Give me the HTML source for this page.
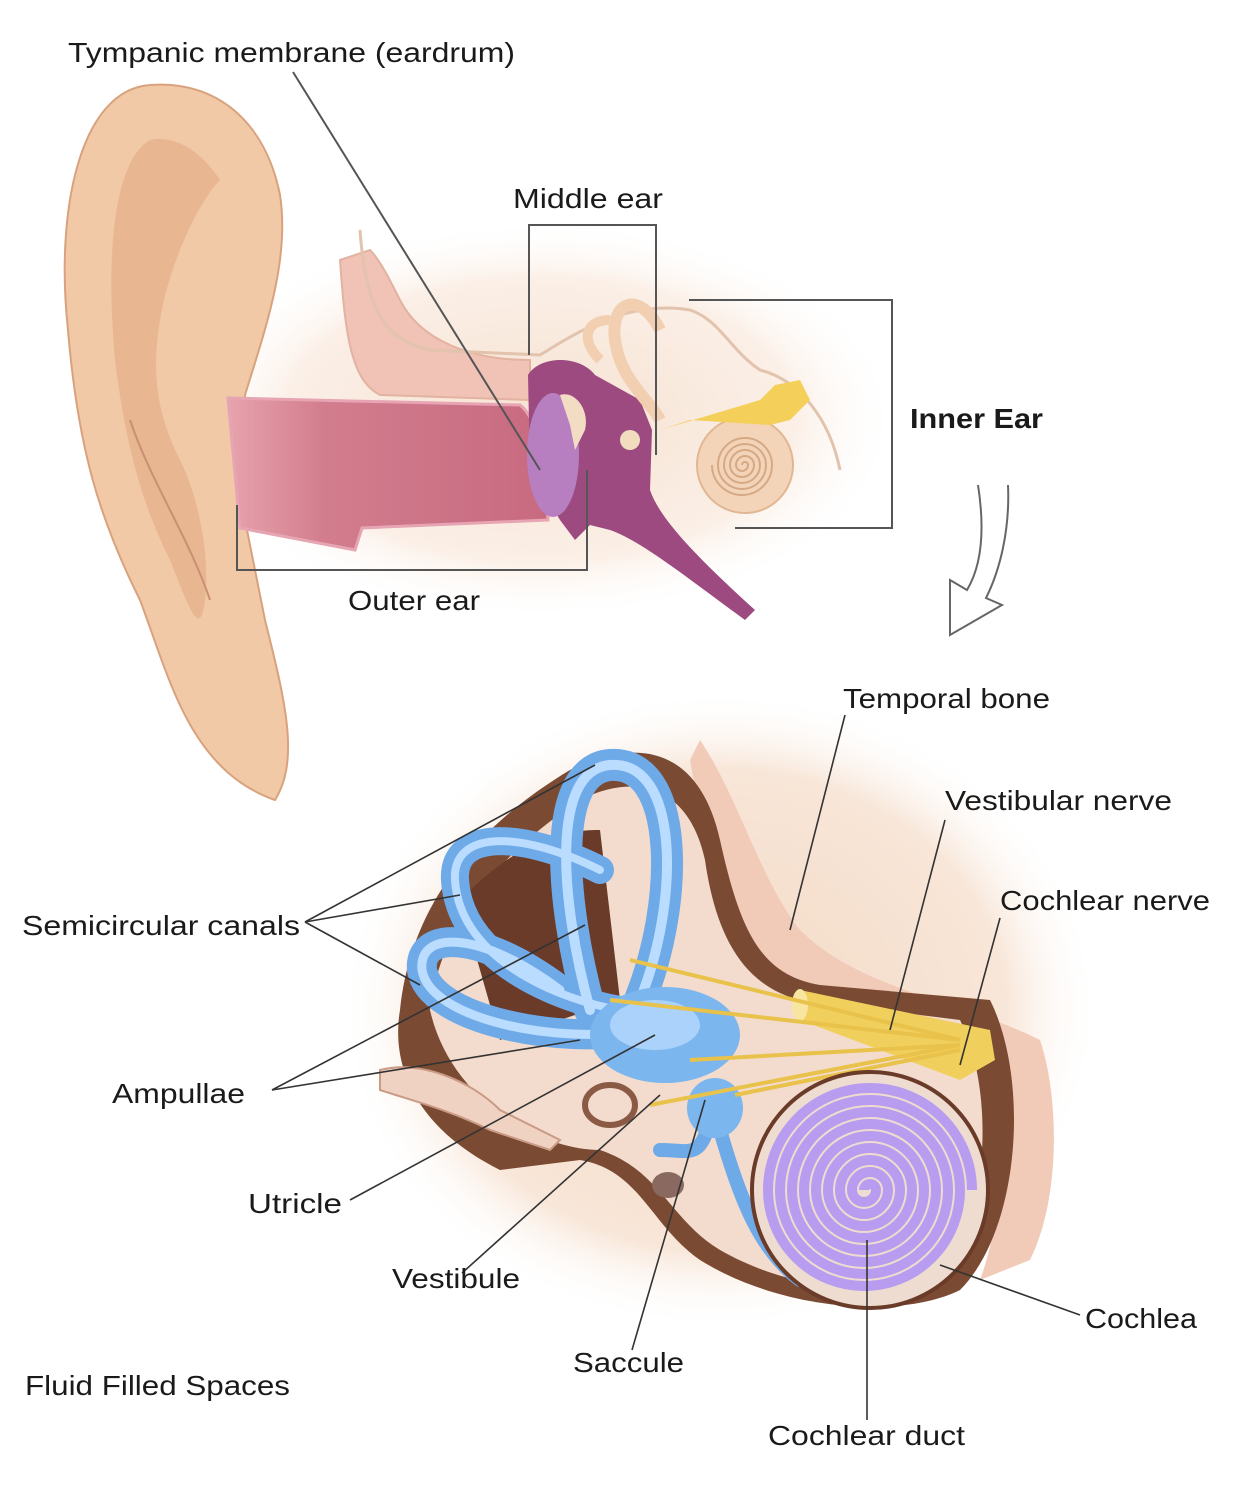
<!DOCTYPE html>
<html><head><meta charset="utf-8"><style>
html,body{margin:0;padding:0;background:#fff;}
svg{display:block;}
text{font-family:"Liberation Sans",sans-serif;font-size:28px;fill:#1a1a1a;}
</style></head><body>
<svg width="1243" height="1500" viewBox="0 0 1243 1500" xmlns="http://www.w3.org/2000/svg">
<defs>
<radialGradient id="glow1" cx="50%" cy="50%" r="50%"><stop offset="0" stop-color="#f6e2d2"/><stop offset="0.7" stop-color="#fbefe6"/><stop offset="1" stop-color="#fff" stop-opacity="0"/></radialGradient>
<radialGradient id="glow2" cx="50%" cy="50%" r="50%"><stop offset="0" stop-color="#f3d9c4"/><stop offset="0.75" stop-color="#f8e6d8"/><stop offset="1" stop-color="#fff" stop-opacity="0"/></radialGradient>
<linearGradient id="canal" x1="0" y1="0" x2="1" y2="0"><stop offset="0" stop-color="#e7a3ad"/><stop offset="0.3" stop-color="#d27d8e"/><stop offset="1" stop-color="#c86a80"/></linearGradient>
</defs>
<!-- top glow -->
<ellipse cx="540" cy="420" rx="360" ry="200" fill="url(#glow1)"/>
<!-- ear -->
<path d="M150 85 C80 90 55 210 68 330 C78 450 100 520 140 600 C170 680 190 770 275 800 C300 760 285 700 265 620 L245 520 L245 395 C265 330 290 260 280 195 C265 120 215 80 150 85 Z" fill="#f1c9a6" stroke="#d9a27e" stroke-width="2"/>
<path d="M150 140 C115 160 105 250 115 360 C125 440 140 500 170 560 C190 610 200 640 205 600 C210 560 200 500 180 460 C160 420 150 380 160 320 C170 260 200 200 220 180 C200 150 175 135 150 140 Z" fill="#e6b28c" opacity="0.8"/>
<path d="M130 420 C150 480 190 540 210 600" stroke="#c99071" stroke-width="2" fill="none"/>
<!-- bone above canal -->
<path d="M340 260 C345 330 350 380 380 395 L530 400 L530 360 C470 360 420 340 400 300 C390 280 380 260 370 250 Z" fill="#f1c2b6" stroke="#e2b3a0" stroke-width="2"/>
<path d="M360 230 C365 300 380 340 430 350 L540 355 C580 330 630 300 690 310 C720 320 730 350 760 370 C800 380 830 420 840 470" fill="none" stroke="#e2c3ad" stroke-width="3"/>
<!-- canal -->
<path d="M228 398 L520 405 C540 420 545 470 548 520 L362 528 L355 550 L240 528 Z" fill="url(#canal)" stroke="#e7a4b3" stroke-width="3"/>
<!-- middle ear purple -->
<path d="M528 375 C540 355 580 355 595 375 L640 400 L652 430 L650 490 C660 520 700 560 755 610 L745 620 C690 580 640 540 610 530 L590 525 L575 540 L560 520 L548 500 L530 470 Z" fill="#9c4a80"/>
<ellipse cx="553" cy="455" rx="26" ry="62" fill="#b77fc0"/>
<path d="M560 395 C575 390 590 410 585 430 L575 450 L570 425 Z" fill="#f3dcc4"/>
<circle cx="630" cy="440" r="10" fill="#f1dcc0"/>
<!-- inner ear small -->
<path d="M660 330 C640 290 610 300 615 340 C620 380 650 400 660 420" fill="none" stroke="#f1cfb0" stroke-width="12"/>
<path d="M600 360 C580 340 585 320 610 320" fill="none" stroke="#f1cfb0" stroke-width="10"/>
<circle cx="745" cy="465" r="48" fill="#f4d4b8" stroke="#e0b792" stroke-width="2"/>
<path d="M742 465 A3 3 0 0 1 748 465 A6 6 0 0 1 736 465 A9 9 0 0 1 754 465 A12 12 0 0 1 730 465 A15 15 0 0 1 760 465 A18 18 0 0 1 724 465 A21 21 0 0 1 766 465 A24 24 0 0 1 718 465 A27 27 0 0 1 772 465 A30 30 0 0 1 712 465" fill="none" stroke="#d6a985" stroke-width="2"/>
<path d="M660 430 L760 400 L775 385 L800 380 L810 400 L790 420 L770 425 L690 420 Z" fill="#f4cf5a"/>
<!-- brackets -->
<g stroke="#555" stroke-width="2" fill="none">
<polyline points="529,355 529,225 656,225 656,455"/>
<polyline points="689,300 892,300 892,528 735,528"/>
<polyline points="237,505 237,570 587,570 587,470"/>
<line x1="293" y1="72" x2="540" y2="470"/>
</g>
<!-- arrow -->
<path d="M978 485 C985 530 982 565 967 590 L950 580 L950 635 L1002 605 L986 598 C1000 570 1010 530 1008 485" fill="#fff" stroke="#666" stroke-width="2"/>
<!-- bottom glow -->
<ellipse cx="720" cy="1010" rx="380" ry="320" fill="url(#glow2)"/>
<!-- temporal bone -->
<path d="M700 740 C740 800 760 880 800 930 C860 990 960 1000 1040 1040 C1060 1100 1060 1200 1030 1260 L980 1280 C1010 1200 1000 1100 970 1070 C900 1000 800 990 760 960 C720 900 700 820 690 760 Z" fill="#f1cbb8"/>
<!-- dark cavity -->
<path d="M400 1010 C410 910 470 830 570 770 C640 735 700 750 720 840 C740 930 760 975 820 985 L990 1000 C1030 1080 1020 1230 960 1290 C900 1320 780 1310 700 1260 C650 1225 640 1170 580 1160 L500 1170 C420 1130 390 1070 400 1010 Z" fill="#7a4a33"/>
<path d="M430 1010 C440 930 490 860 580 800 C640 770 690 790 705 860 C715 930 740 985 800 1000 L960 1020 C995 1090 990 1220 940 1270 C880 1300 790 1290 720 1250 C670 1220 660 1170 600 1150 C540 1150 450 1100 430 1010 Z" fill="#f3dccd"/>
<path d="M460 900 C520 840 560 830 600 830 L620 1000 L500 1040 Z" fill="#6a3b28"/>
<!-- bone piece left -->
<path d="M380 1070 C420 1060 470 1080 500 1110 L560 1140 L550 1150 L490 1130 C450 1110 410 1100 380 1090 Z" fill="#f0d2c2" stroke="#c99a85" stroke-width="2"/>
<ellipse cx="610" cy="1105" rx="25" ry="20" fill="none" stroke="#8a5a45" stroke-width="6"/>
<ellipse cx="668" cy="1185" rx="16" ry="13" fill="#8a6a60"/>
<!-- blue canals -->
<g fill="none" stroke-linecap="round">
<path d="M590 1010 C560 900 550 770 610 765 C680 760 680 900 640 1000" stroke="#6faae8" stroke-width="32"/>
<path d="M620 1010 C560 1000 460 960 455 880 C452 830 520 830 600 870" stroke="#6faae8" stroke-width="28"/>
<path d="M640 1030 C560 1045 430 1020 422 970 C418 930 480 930 560 990" stroke="#6faae8" stroke-width="30"/>
<path d="M590 1010 C560 900 550 770 610 765 C680 760 680 900 640 1000" stroke="#b9dcff" stroke-width="10"/>
<path d="M620 1010 C560 1000 460 960 455 880 C452 830 520 830 600 870" stroke="#b9dcff" stroke-width="8"/>
<path d="M640 1030 C560 1045 430 1020 422 970 C418 930 480 930 560 990" stroke="#b9dcff" stroke-width="9"/>
<path d="M710 1120 C700 1160 690 1150 660 1150 M720 1130 C740 1200 760 1250 800 1280" stroke="#6faae8" stroke-width="14"/>
</g>
<ellipse cx="665" cy="1035" rx="75" ry="48" fill="#7cb6ee"/>
<ellipse cx="655" cy="1025" rx="45" ry="25" fill="#aad2fa"/>
<ellipse cx="715" cy="1108" rx="28" ry="30" fill="#7cb6ee"/>
<!-- nerves -->
<path d="M800 990 L990 1030 L995 1060 L960 1080 L800 1020 Z" fill="#f1cf5c"/>
<ellipse cx="800" cy="1005" rx="8" ry="16" fill="#f8e6a0"/>
<g stroke="#e8c24a" stroke-width="4" fill="none">
<path d="M960 1040 L610 1000"/><path d="M960 1040 L630 960"/><path d="M960 1045 L690 1060"/><path d="M960 1050 L735 1095"/><path d="M960 1045 L650 1105"/>
</g>
<!-- cochlea -->
<circle cx="870" cy="1190" r="118" fill="#efdcd0" stroke="#6a3b28" stroke-width="4"/>
<path d="M864 1190 A6 6 0 0 1 876 1190 A12 12 0 0 1 852 1190 A18 18 0 0 1 888 1190 A24 24 0 0 1 840 1190 A30 30 0 0 1 900 1190 A36 36 0 0 1 828 1190 A42 42 0 0 1 912 1190 A48 48 0 0 1 816 1190 A54 54 0 0 1 924 1190 A60 60 0 0 1 804 1190 A66 66 0 0 1 936 1190 A72 72 0 0 1 792 1190 A78 78 0 0 1 948 1190 A84 84 0 0 1 780 1190 A90 90 0 0 1 960 1190 A96 96 0 0 1 768 1190 A102 102 0 0 1 972 1190" fill="none" stroke="#b79cf0" stroke-width="10"/>
<!-- leader lines -->
<g stroke="#333" stroke-width="1.6" fill="none">
<line x1="305" y1="922" x2="595" y2="765"/><line x1="305" y1="922" x2="460" y2="895"/><line x1="305" y1="922" x2="420" y2="985"/>
<line x1="272" y1="1090" x2="585" y2="925"/><line x1="272" y1="1090" x2="580" y2="1040"/>
<line x1="350" y1="1200" x2="655" y2="1035"/>
<line x1="462" y1="1273" x2="660" y2="1095"/>
<line x1="632" y1="1350" x2="705" y2="1100"/>
<line x1="867" y1="1420" x2="867" y2="1240"/>
<line x1="1080" y1="1315" x2="940" y2="1265"/>
<line x1="845" y1="715" x2="790" y2="930"/>
<line x1="945" y1="820" x2="890" y2="1030"/>
<line x1="1000" y1="918" x2="960" y2="1065"/>
</g>
<!-- labels -->
<text x="68" y="62" textLength="447" lengthAdjust="spacingAndGlyphs">Tympanic membrane (eardrum)</text>
<text x="513" y="208" textLength="150" lengthAdjust="spacingAndGlyphs">Middle ear</text>
<text x="910" y="428" textLength="133" lengthAdjust="spacingAndGlyphs" font-weight="bold">Inner Ear</text>
<text x="348" y="610" textLength="132" lengthAdjust="spacingAndGlyphs">Outer ear</text>
<text x="843" y="708" textLength="207" lengthAdjust="spacingAndGlyphs">Temporal bone</text>
<text x="945" y="810" textLength="227" lengthAdjust="spacingAndGlyphs">Vestibular nerve</text>
<text x="1000" y="910" textLength="210" lengthAdjust="spacingAndGlyphs">Cochlear nerve</text>
<text x="22" y="935" textLength="278" lengthAdjust="spacingAndGlyphs">Semicircular canals</text>
<text x="112" y="1103" textLength="133" lengthAdjust="spacingAndGlyphs">Ampullae</text>
<text x="248" y="1213" textLength="94" lengthAdjust="spacingAndGlyphs">Utricle</text>
<text x="392" y="1288" textLength="128" lengthAdjust="spacingAndGlyphs">Vestibule</text>
<text x="573" y="1372" textLength="111" lengthAdjust="spacingAndGlyphs">Saccule</text>
<text x="1085" y="1328" textLength="112" lengthAdjust="spacingAndGlyphs">Cochlea</text>
<text x="768" y="1445" textLength="197" lengthAdjust="spacingAndGlyphs">Cochlear duct</text>
<text x="25" y="1395" textLength="265" lengthAdjust="spacingAndGlyphs">Fluid Filled Spaces</text>
</svg>
</body></html>
